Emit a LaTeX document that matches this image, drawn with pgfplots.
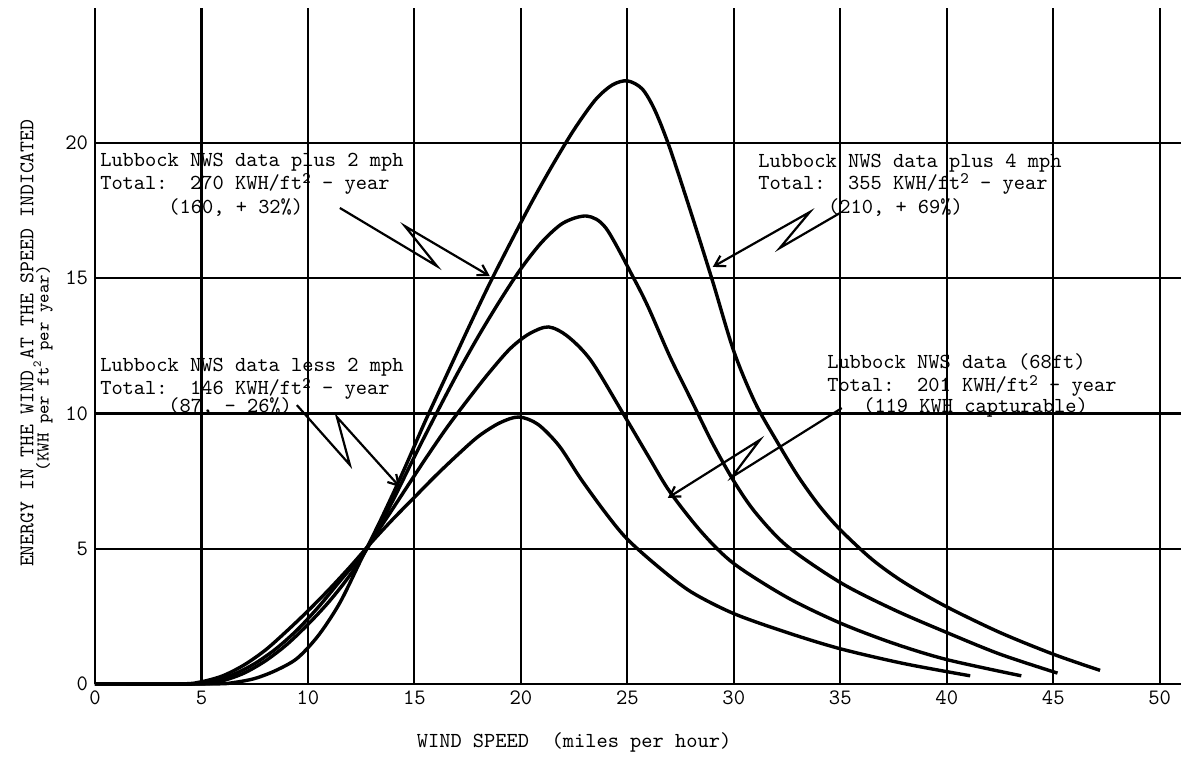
\documentclass[border=0pt]{standalone}
\usepackage{pgfplots}
\pgfplotsset{compat=1.18}
\usetikzlibrary{arrows.meta}

\pgfplotstableread{
x y
0 0
4 0
5 0.08
6 0.3
7 0.7
8 1.25
9 1.95
10 2.7
11 3.5
12 4.35
13 5.25
14 6.1
15 6.9
16 7.7
17 8.45
18 9.15
19 9.65
19.9 9.87
20.8 9.6
21.8 8.8
22.8 7.6
24 6.3
25 5.35
26.5 4.3
28 3.4
30 2.6
32.5 1.9
35 1.3
38 0.75
41.1 0.3
}\lessTwo

\pgfplotstableread{
x y
0 0
4.5 0
5.5 0.1
6.5 0.35
7.5 0.75
8.5 1.3
9.5 2.0
10.5 2.85
11.5 3.8
12.5 4.75
13.5 5.9
14.5 7.1
15.5 8.3
16.5 9.45
17.5 10.5
18.5 11.5
19.5 12.4
20.4 12.95
21.3 13.2
22.2 12.85
23.3 11.95
24.8 10.0
26 8.4
27 7.1
28.5 5.6
30 4.45
32.5 3.2
35 2.25
37.5 1.5
40 0.9
43.5 0.3
}\nws

\pgfplotstableread{
x y
0 0
5 0
6 0.12
7 0.4
8 0.85
9 1.45
10 2.2
11 3.05
12 4.05
13 5.3
14 6.8
15 8.4
16 9.95
17 11.45
18 12.85
19 14.15
20 15.35
21 16.35
22 17.05
23.1 17.3
24 16.85
25.3 15.0
26 13.9
27 12.1
28 10.5
29 8.9
30 7.5
31 6.35
32.5 5.1
35 3.75
37.5 2.75
40 1.9
42.5 1.1
45.2 0.4
}\plusTwo

\pgfplotstableread{
x y
0 0
5.5 0
6.5 0.05
7.5 0.2
8.5 0.5
9.5 0.95
10.5 1.8
11.5 3.0
12.5 4.6
13.5 6.2
14.5 7.9
15.5 9.7
16.5 11.4
17.5 13.1
18.5 14.75
19.5 16.3
20.5 17.8
21.5 19.2
22.5 20.5
23.5 21.6
24.3 22.15
25 22.3
25.7 22.0
26.3 21.2
27 19.8
28 17.4
29 14.9
30 12.3
31 10.4
32 9.0
33 7.7
34 6.6
35 5.7
36.5 4.6
38 3.75
40 2.85
42.5 1.9
45 1.1
47.2 0.5
}\plusFour

\newcommand{\sq}{\raisebox{0.55ex}{\fontsize{8}{8}\selectfont 2}}

\begin{document}
\begin{tikzpicture}
\begin{axis}[
  x=10.65pt, y=13.525pt,
  xmin=0, xmax=51, ymin=0, ymax=25,
  axis x line=bottom, axis y line=left,
  axis line style={line width=1.4pt, -},
  xtick={0,5,...,50}, ytick={0,5,10,15,20},
  major tick length=0pt,
  grid=major,
  major grid style={black, line width=1.1pt},
  tick label style={font=\fontsize{11}{12}\selectfont\ttfamily},
  /pgf/number format/assume math mode=true,
  clip=false,
]
\coordinate (bbll) at (axis cs:-4.46,-2.70);
\coordinate (bbur) at (axis cs:51,25.29);

\addplot[black, line width=1.7pt, smooth, tension=0.5] table[x=x,y=y] {\lessTwo};
\addplot[black, line width=1.7pt, smooth, tension=0.5] table[x=x,y=y] {\nws};
\addplot[black, line width=1.7pt, smooth, tension=0.5] table[x=x,y=y] {\plusTwo};
\addplot[black, line width=1.7pt, smooth, tension=0.5] table[x=x,y=y] {\plusFour};

% annotation arrows
\draw[line width=1.1pt, -{Straight Barb[length=5pt,width=6pt]}] (axis cs:11.50,17.60) -- (axis cs:16.06,15.45) -- (axis cs:14.55,16.93) -- (axis cs:18.54,15.08);
\draw[line width=1.1pt, -{Straight Barb[length=5pt,width=6pt]}] (axis cs:34.98,17.41) -- (axis cs:32.16,16.12) -- (axis cs:33.57,17.45) -- (axis cs:29.01,15.42);
\draw[line width=1.1pt, -{Straight Barb[length=5pt,width=6pt]}] (axis cs:9.48,10.31) -- (axis cs:11.97,8.10) -- (axis cs:11.36,9.87) -- (axis cs:14.32,7.28);
\draw[line width=1.1pt, -{Straight Barb[length=5pt,width=6pt]}] (axis cs:35.07,10.20) -- (axis cs:29.91,7.65) -- (axis cs:31.22,9.02) -- (axis cs:26.90,6.88);

% annotation texts
\tikzset{ann/.style={anchor=base west, inner sep=0pt, font=\fontsize{10.7}{12}\selectfont\ttfamily}}
\node[ann] at (axis cs:0.23,19.15) {Lubbock NWS data plus 2 mph};
\node[ann] at (axis cs:0.23,18.30) {Total:~~270 KWH/ft\sq{} - year};
\node[ann] at (axis cs:3.43,17.41) {(160, + 32\%)};

\node[ann] at (axis cs:31.13,19.08) {Lubbock NWS data plus 4 mph};
\node[ann] at (axis cs:31.13,18.30) {Total:~~355 KWH/ft\sq{} - year};
\node[ann] at (axis cs:34.41,17.41) {(210, + 69\%)};

\node[ann] at (axis cs:0.23,11.57) {Lubbock NWS data less 2 mph};
\node[ann] at (axis cs:0.23,10.72) {Total:~~146 KWH/ft\sq{} - year};
\node[ann] at (axis cs:3.43,10.02) {(87, - 26\%)};

\node[ann] at (axis cs:34.37,11.68) {Lubbock NWS data (68ft)};
\node[ann] at (axis cs:34.37,10.83) {Total:~~201 KWH/ft\sq{} - year};
\node[ann] at (axis cs:36.06,10.02) {(119 KWH capturable)};

% axis titles
\node[rotate=90, inner sep=0pt, font=\fontsize{10.4}{12}\selectfont\ttfamily] at (axis cs:-3.19,12.6) {ENERGY IN THE WIND AT THE SPEED INDICATED};
\node[rotate=90, inner sep=0pt, font=\fontsize{9}{11}\selectfont\ttfamily] at (axis cs:-2.44,11.67) {(KWH per ft\textsuperscript{2} per year)};
\node[inner sep=0pt, font=\fontsize{10.7}{12}\selectfont\ttfamily] at (axis cs:22.5,-2.15) {WIND SPEED~~(miles per hour)};
\end{axis}
\pgfresetboundingbox
\path[use as bounding box] (bbll) rectangle (bbur);
\end{tikzpicture}
\end{document}
